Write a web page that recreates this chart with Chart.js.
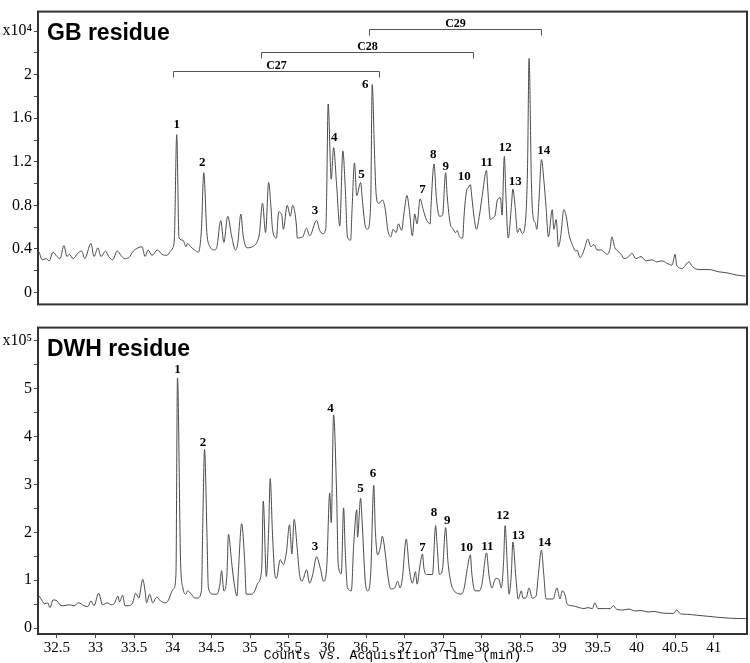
<!DOCTYPE html>
<html>
<head>
<meta charset="utf-8">
<script src="https://cdn.jsdelivr.net/npm/chart.js@4/dist/chart.umd.min.js"></script>
<style>
  body { margin: 0; background: #fff; }
  #wrap { position: relative; width: 750px; height: 663px; }
  canvas { position: absolute; left: 0; }
  #gbChart { top: 0; }
  #dwhChart { top: 316px; }
</style>
</head>
<body>
<div id="wrap">
  <canvas id="gbChart" width="750" height="316"></canvas>
  <canvas id="dwhChart" width="750" height="347"></canvas>
</div>
<script>
// Retention time range (min)
const timeMin = 32.255;
const timeMax = 41.43;

// GB residue trace (x10^4 counts)
const gbTime = [32.27, 32.31, 32.36, 32.40, 32.45, 32.50, 32.54, 32.59, 32.63, 32.66, 32.71, 32.77, 32.82, 32.86, 32.94, 32.98,
  33.03, 33.07, 33.13, 33.17, 33.22, 33.28, 33.33, 33.37, 33.43, 33.49, 33.55, 33.60, 33.64, 33.68, 33.73, 33.80, 33.86, 33.92, 33.97,
  34.00, 34.02, 34.05, 34.08, 34.13, 34.17, 34.19, 34.23, 34.28, 34.33, 34.37, 34.40, 34.44, 34.48, 34.54, 34.57, 34.62, 34.66, 34.71,
  34.76, 34.81, 34.84, 34.88, 34.91, 34.96, 35.03, 35.10, 35.12, 35.16, 35.20, 35.24, 35.27, 35.29, 35.34, 35.37, 35.41, 35.43, 35.48,
  35.52, 35.55, 35.60, 35.61, 35.68, 35.73, 35.77, 35.86, 35.90, 35.94, 35.98, 35.99, 36.01, 36.05, 36.08, 36.12, 36.16, 36.20, 36.23,
  36.26, 36.30, 36.32, 36.35, 36.38, 36.43, 36.45, 36.49, 36.52, 36.56, 36.58, 36.61, 36.63, 36.66, 36.70, 36.71, 36.75, 36.78, 36.82,
  36.85, 36.89, 36.92, 36.96, 36.99, 37.03, 37.06, 37.10, 37.13, 37.16, 37.20, 37.24, 37.28, 37.33, 37.34, 37.38, 37.41, 37.45, 37.49,
  37.53, 37.55, 37.59, 37.62, 37.66, 37.68, 37.71, 37.75, 37.77, 37.80, 37.82, 37.85, 37.87, 37.90, 37.93, 37.97, 38.00, 38.06, 38.07,
  38.11, 38.13, 38.17, 38.20, 38.24, 38.26, 38.29, 38.31, 38.34, 38.38, 38.40, 38.43, 38.46, 38.49, 38.52, 38.56, 38.59, 38.61, 38.64,
  38.66, 38.69, 38.71, 38.74, 38.77, 38.80, 38.83, 38.86, 38.91, 38.93, 38.96, 38.99, 39.02, 39.06, 39.09, 39.13, 39.17, 39.21, 39.23,
  39.27, 39.30, 39.33, 39.37, 39.41, 39.45, 39.49, 39.54, 39.58, 39.62, 39.66, 39.68, 39.72, 39.76, 39.80, 39.84, 39.90, 39.94, 39.99,
  40.06, 40.12, 40.20, 40.26, 40.33, 40.39, 40.46, 40.50, 40.52, 40.59, 40.68, 40.72, 40.81, 40.94, 41.06, 41.17, 41.29, 41.41];
const gbSignal = [0.37, 0.30, 0.31, 0.29, 0.37, 0.33, 0.31, 0.43, 0.33, 0.35, 0.31, 0.36, 0.38, 0.31, 0.45, 0.33,
  0.41, 0.33, 0.38, 0.33, 0.30, 0.38, 0.34, 0.31, 0.32, 0.38, 0.41, 0.42, 0.33, 0.39, 0.34, 0.39, 0.35, 0.34, 0.38,
  0.41, 0.50, 1.45, 0.50, 0.48, 0.42, 0.45, 0.42, 0.39, 0.37, 0.58, 1.10, 0.55, 0.42, 0.39, 0.42, 0.66, 0.46, 0.70,
  0.52, 0.39, 0.45, 0.72, 0.52, 0.41, 0.42, 0.48, 0.54, 0.82, 0.55, 1.01, 0.78, 0.58, 0.50, 0.74, 0.71, 0.58, 0.80,
  0.70, 0.80, 0.61, 0.50, 0.51, 0.59, 0.52, 0.66, 0.57, 0.54, 0.59, 0.87, 1.73, 1.04, 1.33, 0.98, 0.61, 1.30, 0.98,
  0.51, 0.48, 0.78, 1.19, 0.89, 1.01, 0.87, 0.61, 0.58, 0.81, 1.91, 1.27, 0.91, 0.82, 0.84, 0.85, 0.76, 0.58, 0.51,
  0.58, 0.55, 0.63, 0.57, 0.72, 0.89, 0.76, 0.52, 0.72, 0.63, 0.86, 0.76, 0.67, 0.63, 0.78, 1.18, 0.87, 0.70, 0.71,
  1.10, 0.89, 0.63, 0.59, 0.55, 0.57, 0.51, 0.50, 0.72, 0.93, 0.96, 0.99, 0.87, 0.68, 0.58, 0.72, 0.87, 1.12, 1.01,
  0.67, 0.68, 0.71, 0.85, 0.87, 0.71, 1.25, 0.89, 0.50, 0.78, 0.95, 0.78, 0.55, 0.59, 0.54, 0.63, 1.15, 2.15, 1.01,
  0.70, 0.64, 0.58, 0.87, 1.22, 1.04, 0.78, 0.51, 0.76, 0.58, 0.67, 0.42, 0.52, 0.76, 0.70, 0.52, 0.44, 0.38, 0.39,
  0.32, 0.35, 0.41, 0.49, 0.42, 0.44, 0.39, 0.39, 0.37, 0.35, 0.41, 0.51, 0.41, 0.38, 0.35, 0.31, 0.33, 0.36, 0.31,
  0.33, 0.29, 0.30, 0.28, 0.29, 0.27, 0.25, 0.35, 0.25, 0.22, 0.28, 0.24, 0.21, 0.21, 0.19, 0.18, 0.16, 0.15];

// DWH residue trace (x10^5 counts)
const dwhTime = [32.27, 32.31, 32.34, 32.38, 32.41, 32.45, 32.50, 32.54, 32.59, 32.66, 32.72, 32.78, 32.85, 32.90, 32.94, 32.98,
  33.04, 33.09, 33.15, 33.20, 33.24, 33.29, 33.31, 33.35, 33.38, 33.43, 33.48, 33.52, 33.56, 33.61, 33.64, 33.66, 33.70, 33.74,
  33.79, 33.84, 33.91, 33.95, 33.99, 34.01, 34.04, 34.06, 34.10, 34.13, 34.17, 34.19, 34.24, 34.28, 34.32, 34.37, 34.39, 34.41,
  34.44, 34.46, 34.52, 34.57, 34.61, 34.63, 34.66, 34.70, 34.72, 34.76, 34.79, 34.83, 34.85, 34.89, 34.93, 34.95, 35.02, 35.06,
  35.10, 35.15, 35.17, 35.21, 35.24, 35.26, 35.29, 35.32, 35.34, 35.39, 35.43, 35.47, 35.51, 35.54, 35.57, 35.61, 35.64, 35.67,
  35.69, 35.73, 35.77, 35.81, 35.86, 35.91, 35.95, 35.99, 36.03, 36.05, 36.08, 36.12, 36.14, 36.18, 36.21, 36.23, 36.26, 36.31,
  36.34, 36.38, 36.39, 36.43, 36.45, 36.49, 36.52, 36.56, 36.60, 36.62, 36.65, 36.69, 36.71, 36.75, 36.78, 36.82, 36.87, 36.91,
  36.94, 36.97, 37.02, 37.06, 37.10, 37.14, 37.16, 37.20, 37.23, 37.25, 37.29, 37.36, 37.40, 37.42, 37.45, 37.49, 37.53, 37.56,
  37.60, 37.64, 37.68, 37.73, 37.77, 37.81, 37.85, 37.87, 37.91, 37.97, 38.00, 38.06, 38.09, 38.13, 38.16, 38.18, 38.22, 38.25,
  38.28, 38.30, 38.33, 38.35, 38.38, 38.40, 38.44, 38.47, 38.51, 38.53, 38.57, 38.61, 38.65, 38.70, 38.73, 38.77, 38.80, 38.83,
  38.87, 38.92, 38.97, 39.01, 39.04, 39.08, 39.10, 39.17, 39.26, 39.32, 39.37, 39.43, 39.46, 39.50, 39.61, 39.66, 39.70, 39.74,
  39.82, 39.90, 39.98, 40.06, 40.15, 40.23, 40.32, 40.42, 40.48, 40.52, 40.57, 40.66, 40.79, 40.92, 41.04, 41.20, 41.43];
const dwhSignal = [0.67, 0.57, 0.51, 0.53, 0.43, 0.59, 0.57, 0.49, 0.47, 0.49, 0.47, 0.53, 0.47, 0.45, 0.57, 0.47,
  0.73, 0.49, 0.53, 0.49, 0.51, 0.67, 0.55, 0.69, 0.47, 0.47, 0.53, 0.73, 0.63, 1.02, 0.78, 0.53, 0.71, 0.53,
  0.65, 0.57, 0.53, 0.61, 0.78, 0.82, 1.12, 5.22, 1.39, 0.84, 0.71, 0.78, 0.71, 0.63, 0.63, 0.78, 2.41, 3.73,
  2.06, 0.84, 0.71, 0.71, 0.92, 1.20, 0.78, 1.12, 1.96, 1.39, 0.98, 0.67, 1.24, 2.18, 1.39, 0.71, 0.71, 0.78,
  0.94, 1.24, 2.65, 1.08, 2.06, 3.12, 1.94, 1.12, 1.04, 1.43, 1.33, 1.59, 2.16, 1.55, 2.27, 1.65, 1.12, 0.98,
  1.04, 1.22, 0.94, 1.12, 1.49, 1.24, 0.98, 1.24, 2.82, 2.20, 4.45, 2.76, 1.33, 1.14, 2.51, 1.65, 0.84, 0.78,
  1.73, 2.47, 1.90, 2.71, 2.20, 0.98, 0.78, 1.12, 2.98, 2.06, 1.53, 1.73, 1.92, 1.55, 1.12, 0.82, 0.84, 0.98,
  0.84, 1.04, 1.86, 1.24, 0.94, 1.18, 0.92, 1.33, 1.55, 1.24, 1.12, 1.12, 2.14, 1.73, 1.12, 1.24, 2.10, 1.39,
  0.94, 0.78, 0.73, 0.71, 0.84, 1.24, 1.53, 1.12, 0.78, 0.78, 0.92, 1.57, 1.12, 0.84, 0.98, 1.04, 1.02, 0.84,
  1.39, 2.14, 1.24, 0.71, 1.12, 1.80, 1.04, 0.61, 0.78, 0.63, 0.63, 0.84, 0.63, 0.67, 1.12, 1.63, 1.12, 0.61,
  0.61, 0.61, 0.84, 0.61, 0.78, 0.67, 0.51, 0.47, 0.43, 0.41, 0.43, 0.41, 0.53, 0.41, 0.41, 0.41, 0.47, 0.40,
  0.38, 0.40, 0.36, 0.37, 0.34, 0.35, 0.32, 0.31, 0.31, 0.38, 0.30, 0.29, 0.27, 0.25, 0.23, 0.21, 0.20];

// Peak numbers and where their labels sit (time, signal)
const peakNames = ['1', '2', '3', '4', '5', '6', '7', '8', '9', '10', '11', '12', '13', '14'];
const gbLabelTime = [34.05, 34.38, 35.84, 36.09, 36.44, 36.49, 37.23, 37.37, 37.53, 37.77, 38.06, 38.30, 38.43, 38.80];
const gbLabelValue = [1.54, 1.19, 0.75, 1.42, 1.08, 1.91, 0.94, 1.27, 1.16, 1.06, 1.19, 1.33, 1.02, 1.30];
const dwhLabelTime = [34.06, 34.39, 35.84, 36.04, 36.43, 36.59, 37.23, 37.38, 37.55, 37.80, 38.07, 38.27, 38.47, 38.81];
const dwhLabelValue = [5.39, 3.88, 1.71, 4.57, 2.92, 3.22, 1.69, 2.41, 2.24, 1.69, 1.71, 2.35, 1.94, 1.79];

// Carbon-number brackets on the GB panel
const bracketNames = ['C27', 'C28', 'C29'];
const bracketStart = [34.00, 35.14, 36.54];
const bracketEnd = [36.67, 37.89, 38.77];
const bracketLevel = [2.03, 2.21, 2.42];

const traceColor = '#4a4a4a';
const frameColor = '#333333';

function toPoints(xs, ys) {
    return xs.map((t, i) => ({ x: t, y: ys[i] }));
}

function makeOverlay(title, labelTime, labelValue, withBrackets) {
    return {
        id: 'overlay',
        afterDraw(chart) {
            const { ctx, chartArea: a } = chart;
            const xs = chart.scales.x;
            const ys = chart.scales.y;
            ctx.save();
            // frame box
            ctx.strokeStyle = frameColor;
            ctx.lineWidth = 2;
            ctx.strokeRect(a.left, a.top, a.right - a.left, a.bottom - a.top);

            // panel title
            ctx.fillStyle = '#000';
            ctx.font = 'bold 23px "Liberation Sans", Arial, sans-serif';
            ctx.textAlign = 'left';
            ctx.textBaseline = 'alphabetic';
            ctx.fillText(title, a.left + 9, a.top + 28);

            // peak numbers
            ctx.font = 'bold 13px "Liberation Serif", "Times New Roman", serif';
            ctx.textAlign = 'center';
            ctx.textBaseline = 'middle';
            labelTime.forEach((t, i) => {
                ctx.fillText(peakNames[i], xs.getPixelForValue(t), ys.getPixelForValue(labelValue[i]));
            });

            if (withBrackets) {
                ctx.strokeStyle = '#555';
                ctx.lineWidth = 1;
                ctx.font = 'bold 12px "Liberation Serif", "Times New Roman", serif';
                ctx.textBaseline = 'alphabetic';
                bracketNames.forEach((name, i) => {
                    const x0 = Math.round(xs.getPixelForValue(bracketStart[i])) + 0.5;
                    const x1 = Math.round(xs.getPixelForValue(bracketEnd[i])) + 0.5;
                    const y = Math.round(ys.getPixelForValue(bracketLevel[i])) + 0.5;
                    ctx.beginPath();
                    ctx.moveTo(x0, y + 6);
                    ctx.lineTo(x0, y);
                    ctx.lineTo(x1, y);
                    ctx.lineTo(x1, y + 6);
                    ctx.stroke();
                    ctx.fillText(name, (x0 + x1) / 2, y - 3);
                });
            }
            ctx.restore();
        }
    };
}

function yTickCallback(major, topValue, unitLabel) {
    return (v) => {
        if (Math.abs(v - topValue) < 1e-6) return unitLabel;
        const r = Math.round(v / major);
        if (Math.abs(r * major - v) > 1e-6) return '';
        return String(Math.round(v * 10) / 10);
    };
}

const tickFont = { family: '"Liberation Serif", "Times New Roman", serif', size: 16 };

function yScale(min, max, step, major, topValue, unitLabel) {
    return {
        type: 'linear',
        min: min,
        max: max,
        afterFit: (scale) => { scale.width = 38; },
        border: { display: false },
        grid: { drawOnChartArea: false, drawTicks: true, tickLength: 4, color: '#444' },
        ticks: {
            stepSize: step,
            includeBounds: false,
            autoSkip: false,
            padding: 2,
            color: '#000',
            font: tickFont,
            callback: yTickCallback(major, topValue, unitLabel)
        }
    };
}

const baseDataset = {
    borderColor: traceColor,
    borderWidth: 1,
    pointRadius: 0,
    cubicInterpolationMode: 'monotone',
    fill: false
};

// Top panel: GB residue
new Chart(document.getElementById('gbChart'), {
    type: 'line',
    data: { datasets: [{ ...baseDataset, label: 'GB residue', data: toPoints(gbTime, gbSignal) }] },
    options: {
        responsive: false,
        animation: false,
        layout: { padding: { top: 1, right: 3, bottom: 2, left: 0 } },
        plugins: { legend: { display: false }, tooltip: { enabled: false } },
        scales: {
            x: { type: 'linear', min: timeMin, max: timeMax, display: false },
            y: yScale(-0.11, 2.58, 0.2, 0.4, 2.4, 'x10⁴')
        }
    },
    plugins: [makeOverlay('GB residue', gbLabelTime, gbLabelValue, true)]
});

// Bottom panel: DWH residue
new Chart(document.getElementById('dwhChart'), {
    type: 'line',
    data: { datasets: [{ ...baseDataset, label: 'DWH residue', data: toPoints(dwhTime, dwhSignal) }] },
    options: {
        responsive: false,
        animation: false,
        layout: { padding: { top: 5, right: 3, bottom: 0, left: 0 } },
        plugins: { legend: { display: false }, tooltip: { enabled: false } },
        scales: {
            x: {
                type: 'linear',
                min: timeMin,
                max: timeMax,
                afterFit: (scale) => { scale.height = 29; },
                border: { display: false },
                grid: { drawOnChartArea: false, drawTicks: true, tickLength: 4, color: '#444' },
                ticks: {
                    stepSize: 0.5,
                    includeBounds: false,
                    autoSkip: false,
                    maxRotation: 0,
                    padding: 1,
                    color: '#000',
                    font: { family: '"Liberation Serif", "Times New Roman", serif', size: 15 },
                    callback: (v) => String(v)
                },
                title: {
                    display: true,
                    text: 'Counts vs. Acquisition Time (min)',
                    color: '#000',
                    padding: { top: 0, bottom: 0 },
                    font: { family: '"Liberation Mono", "Courier New", monospace', size: 13 }
                }
            },
            y: yScale(-0.12, 6.27, 0.5, 1, 6, 'x10⁵')
        }
    },
    plugins: [makeOverlay('DWH residue', dwhLabelTime, dwhLabelValue, false)]
});
</script>
</body>
</html>
